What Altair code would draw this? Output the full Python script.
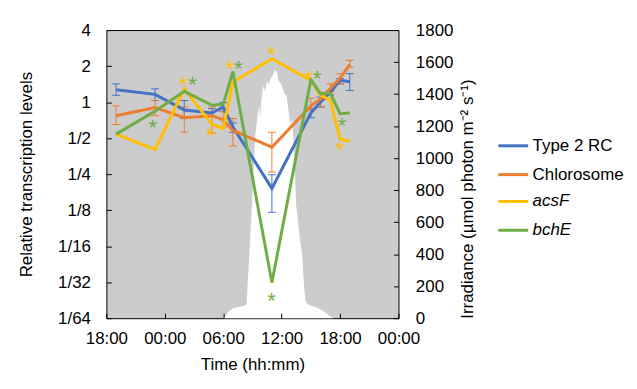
import json
import altair as alt
import pandas as pd

# ---- data ----
HOURS = [1, 5, 8, 10.85, 12, 13, 17, 21, 22, 23, 24, 25]  # hours after 18:00

SERIES = ["Type 2 RC", "Chlorosome", "acsF", "bchE"]
COLORS = ["#4472C4", "#ED7D31", "#FFC000", "#70AD47"]

TYPE2_RC = [1.27, 1.16, 0.86, 0.81, 0.91, 0.62, 0.19, 0.81, 1.00, 1.21, 1.52, 1.48]
TYPE2_LO = [1.14, 1.03, 0.73, 0.76, 0.84, 0.56, 0.12, 0.74, 0.91, 1.15, 1.42, 1.25]
TYPE2_HI = [1.42, 1.29, 1.03, 0.88, 0.99, 0.67, 0.247, 0.89, 1.10, 1.25, 1.57, 1.73]
CHLORO = [0.77, 0.90, 0.74, 0.77, 0.71, 0.58, 0.42, 0.93, 1.06, 1.30, 1.58, 2.06]
CHLORO_LO = [0.65, 0.77, 0.56, 0.55, 0.62, 0.43, 0.26, 0.85, 0.91, 1.22, 1.42, 1.96]
CHLORO_HI = [0.93, 1.03, 0.91, 0.91, 0.83, 0.73, 0.56, 1.08, 1.21, 1.42, 1.73, 2.23]
ACSF = [0.54, 0.40, 1.29, 0.65, 0.60, 1.47, 2.30, 1.52, 1.14, 1.04, 0.49, 0.47]
BCHE = [0.54, 0.84, 1.23, 0.94, 0.96, 1.80, 0.031, 1.54, 1.17, 1.19, 0.80, 0.81]

STAR_SERIES = ["acsF", "bchE", "bchE", "acsF", "acsF", "bchE", "acsF", "bchE",
               "acsF", "bchE", "bchE", "acsF"]
STAR_HOURS = [7.9, 8.85, 4.77, 10.66, 12.67, 13.56, 16.97, 16.97,
              20.78, 21.67, 24.2, 24.0]
STAR_VALUES = [1.52, 1.52, 0.67, 0.57, 2.07, 2.07, 2.70, 0.024,
               1.72, 1.72, 0.70, 0.44]

IRR_HOURS = [12.0, 12.3, 12.6, 13.0, 13.5, 14.0, 14.4, 14.5, 14.7, 14.9, 15.1,
             15.3, 15.5, 15.7, 15.8, 15.9, 16.1, 16.3, 16.5, 16.7, 16.9, 17.1,
             17.3, 17.5, 17.7, 17.9, 18.1, 18.3, 18.5, 18.7, 18.9, 19.1, 19.3,
             19.5, 19.7, 19.9, 20.1, 20.3, 20.45, 20.6, 21.0, 21.5, 22.0, 22.5,
             23.0, 23.3]
IRR_VALUES = [0, 20, 45, 60, 70, 75, 85, 200, 420, 650, 900,
              1150, 1250, 1330, 1240, 1360, 1450, 1420, 1480, 1460, 1500, 1520,
              1550, 1540, 1480, 1470, 1440, 1400, 1390, 1300, 1200, 1250, 1000,
              700, 600, 480, 400, 200, 110, 90, 80, 70, 55, 35,
              10, 0]

X_TICKS = [0, 6, 12, 18, 24, 30]
X_LABELS = ["18:00", "00:00", "06:00", "12:00", "18:00", "00:00"]
Y_TICKS = [1 / 64, 1 / 32, 1 / 16, 1 / 8, 1 / 4, 1 / 2, 1, 2, 4]
Y_LABELS = ["1/64", "1/32", "1/16", "1/8", "1/4", "1/2", "1", "2", "4"]
IRR_TICKS = [0, 200, 400, 600, 800, 1000, 1200, 1400, 1600, 1800]

# ---- tables ----
line_rows = []
for name, vals in zip(SERIES, [TYPE2_RC, CHLORO, ACSF, BCHE]):
    for h, v in zip(HOURS, vals):
        line_rows.append({"series": name, "hour": h, "value": v})
lines_df = pd.DataFrame(line_rows)

err_rows = []
for name, lo, hi in [("Type 2 RC", TYPE2_LO, TYPE2_HI), ("Chlorosome", CHLORO_LO, CHLORO_HI)]:
    for h, a, b in zip(HOURS, lo, hi):
        err_rows.append({"series": name, "hour": h, "lo": a, "hi": b})
err_df = pd.DataFrame(err_rows)

star_df = pd.DataFrame({"series": STAR_SERIES, "hour": STAR_HOURS, "value": STAR_VALUES})
irr_df = pd.DataFrame({"hour": IRR_HOURS, "irr": IRR_VALUES})

# ---- encodings ----
x_enc = alt.X(
    "hour:Q",
    scale=alt.Scale(domain=[0, 30], nice=False, zero=False),
    axis=alt.Axis(
        values=X_TICKS,
        labelExpr=json.dumps(X_LABELS) + "[round(datum.value / 6)]",
        labelOverlap=False, labelFlush=False,
        title="Time (hh:mm)",
        offset=-5, tickSize=5, domain=False, grid=False, zindex=1,
        labelPadding=12, titlePadding=11, tickColor="black",
    ),
)

left_scale = alt.Scale(type="log", base=2, domain=[1 / 64, 4], nice=False)
left_axis = alt.Axis(
    orient="left",
    values=Y_TICKS,
    labelExpr=json.dumps(Y_LABELS) + "[round(log(datum.value) / log(2)) + 6]",
    labelOverlap=False, labelFlush=False,
    title="Relative transcription levels",
    offset=-5, tickSize=5, domain=False, grid=False, zindex=1,
    labelPadding=16, titlePadding=22, tickColor="black",
)

# two legend groups: plain names (color) and gene names in italics (stroke)
PLAIN = SERIES[:2]
GENES = SERIES[2:]
plain_scale = alt.Scale(domain=PLAIN, range=COLORS[:2])
gene_scale = alt.Scale(domain=GENES, range=COLORS[2:])
all_scale = alt.Scale(domain=SERIES, range=COLORS)

legend_common = dict(
    title=None, orient="none", legendX=393,
    symbolType="stroke", symbolStrokeWidth=3, symbolSize=900, symbolOpacity=1,
    rowPadding=4, labelOffset=3, labelFontSize=17, labelColor="black",
)
plain_legend = alt.Legend(legendY=100, **legend_common)
gene_legend = alt.Legend(legendY=156, labelFontStyle="italic", **legend_common)

irr_layer = alt.Chart(irr_df).mark_area(color="white", opacity=1, interpolate="linear").encode(
    x=x_enc,
    y=alt.Y(
        "irr:Q",
        scale=alt.Scale(domain=[0, 1800], nice=False),
        axis=alt.Axis(
            orient="right", values=IRR_TICKS, format="d", labelOverlap=False,
            labelFlush=False,
            title="Irradiance (µmol photon m⁻² s⁻¹)",
            titleAngle=270, titleBaseline="bottom", titleAnchor="start",
            offset=-5, tickSize=5, domain=False, grid=False, zindex=1,
            labelPadding=17, titlePadding=24, tickColor="black",
        ),
    ),
)

rules = alt.Chart(err_df).mark_rule(strokeWidth=1, opacity=1).encode(
    x=x_enc,
    y=alt.Y("lo:Q", scale=left_scale, axis=left_axis),
    y2="hi:Q",
    color=alt.Color("series:N", scale=plain_scale, legend=plain_legend),
)
caps_lo = alt.Chart(err_df).mark_tick(orient="horizontal", size=8, thickness=1, opacity=1).encode(
    x=x_enc,
    y=alt.Y("lo:Q", scale=left_scale, axis=left_axis),
    color=alt.Color("series:N", scale=plain_scale, legend=plain_legend),
)
caps_hi = alt.Chart(err_df).mark_tick(orient="horizontal", size=8, thickness=1, opacity=1).encode(
    x=x_enc,
    y=alt.Y("hi:Q", scale=left_scale, axis=left_axis),
    color=alt.Color("series:N", scale=plain_scale, legend=plain_legend),
)

lines_plain = alt.Chart(lines_df).transform_filter(
    alt.FieldOneOfPredicate(field="series", oneOf=PLAIN)
).mark_line(strokeWidth=3, opacity=1).encode(
    x=x_enc,
    y=alt.Y("value:Q", scale=left_scale, axis=left_axis),
    color=alt.Color("series:N", scale=plain_scale, legend=plain_legend),
    order="hour:Q",
)

lines_gene = alt.Chart(lines_df).transform_filter(
    alt.FieldOneOfPredicate(field="series", oneOf=GENES)
).mark_line(strokeWidth=3, opacity=1).encode(
    x=x_enc,
    y=alt.Y("value:Q", scale=left_scale, axis=left_axis),
    stroke=alt.Stroke("series:N", scale=gene_scale, legend=gene_legend),
    order="hour:Q",
)

stars = alt.Chart(star_df).mark_text(text="*", fontSize=22, baseline="alphabetic", dy=12).encode(
    x=x_enc,
    y=alt.Y("value:Q", scale=left_scale, axis=left_axis),
    fill=alt.Fill("series:N", scale=all_scale, legend=None),
)

left_layer = alt.layer(rules, caps_lo, caps_hi, lines_plain, lines_gene, stars)

chart = (
    alt.layer(irr_layer, left_layer)
    .resolve_scale(y="independent")
    .properties(width=294, height=290, padding={"left": 9, "top": 12, "right": 5, "bottom": 5})
    .configure(font="Liberation Sans")
    .configure_view(fill="#cccccc", stroke="black", strokeWidth=1)
    .configure_axis(labelFontSize=17, titleFontSize=17, labelColor="black",
                    titleColor="black", titleFontWeight="normal")
    .configure_legend(labelFontSize=17, labelColor="black")
)

chart.save("out.html", embed_options={"renderer": "svg", "actions": False})
